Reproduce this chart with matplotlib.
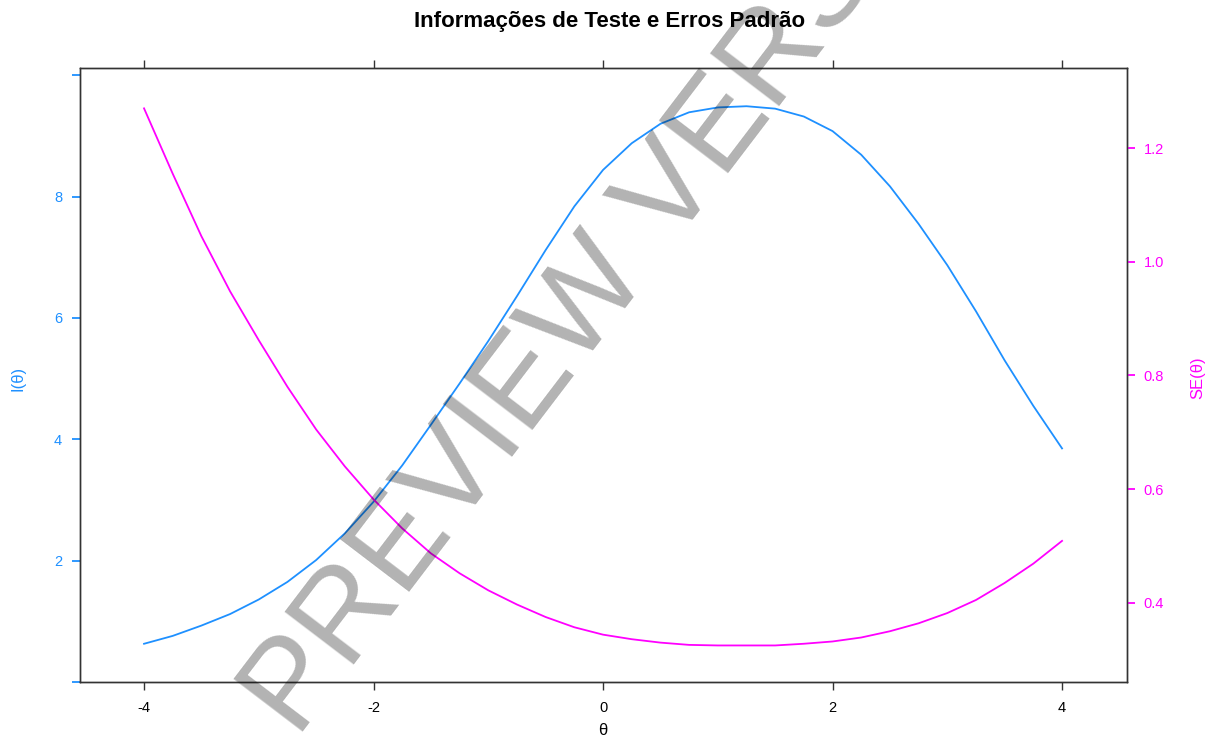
import matplotlib
matplotlib.use("Agg")
import matplotlib.pyplot as plt

theta = [-4.0, -3.75, -3.5, -3.25, -3.0, -2.75, -2.5, -2.25, -2.0, -1.75, -1.5, -1.25,
         -1.0, -0.75, -0.5, -0.25, 0.0, 0.25, 0.5, 0.75, 1.0, 1.25, 1.5, 1.75,
         2.0, 2.25, 2.5, 2.75, 3.0, 3.25, 3.5, 3.75, 4.0]
info = [0.63, 0.76, 0.93, 1.12, 1.36, 1.65, 2.01, 2.45, 2.97, 3.57, 4.24, 4.92,
        5.62, 6.36, 7.12, 7.84, 8.44, 8.88, 9.20, 9.39, 9.47, 9.49, 9.45, 9.32,
        9.08, 8.69, 8.17, 7.55, 6.87, 6.11, 5.30, 4.55, 3.85]
se = [1.27, 1.155, 1.045, 0.948, 0.862, 0.780, 0.705, 0.640, 0.582, 0.531, 0.487, 0.452,
      0.422, 0.397, 0.375, 0.357, 0.344, 0.336, 0.330, 0.326, 0.325, 0.325, 0.325, 0.328,
      0.332, 0.339, 0.350, 0.364, 0.382, 0.405, 0.435, 0.469, 0.509]

x_ticks = [-4, -2, 0, 2, 4]
left_ticks = [0, 2, 4, 6, 8, 10]
left_labels = ["", "2", "4", "6", "8", ""]
right_ticks = [0.4, 0.6, 0.8, 1.0, 1.2]
right_labels = ["0.4", "0.6", "0.8", "1.0", "1.2"]

title = "Informações de Teste e Erros Padrão"
blue = "#1E90FF"
magenta = "#FF00FF"
spine_col = "#333333"

plt.rcParams['font.family'] = ['Liberation Sans', 'DejaVu Sans']

fig = plt.figure(figsize=(12.09, 7.40), dpi=100)
fig.patch.set_facecolor("white")
ax = fig.add_axes([80/1209, 1-682/740, (1127-80)/1209, (682-68)/740])
ax2 = ax.twinx()

ax.plot(theta, info, color=blue, lw=1.3)
ax2.plot(theta, se, color=magenta, lw=1.3)

ax.set_xlim(-4.558, 4.566)
ax.set_ylim(0, 10.12)
ax2.set_ylim(0.2607, 1.341)

for a in (ax, ax2):
    for s in a.spines.values():
        s.set_color(spine_col)
        s.set_linewidth(1.0)

tick_len = 5.8
ax.set_xticks(x_ticks)
ax.set_xticklabels([str(v) for v in x_ticks])
ax.tick_params(axis='x', direction='out', length=tick_len, width=1, color=spine_col,
               labelsize=10.5, pad=8, top=True, labeltop=False)
ax.set_yticks(left_ticks)
ax.set_yticklabels(left_labels)
ax.tick_params(axis='y', direction='out', length=tick_len, width=1.3, color=blue,
               labelcolor=blue, labelsize=10.5, pad=7)
ax2.set_yticks(right_ticks)
ax2.set_yticklabels(right_labels)
ax2.tick_params(axis='y', direction='out', length=tick_len, width=1.3, color=magenta,
                labelcolor=magenta, labelsize=10.5, pad=6)

ax.set_xlabel("θ", fontsize=12)
ax.xaxis.set_label_coords(0.4995, -0.0668)
ax.set_ylabel("I(θ)", color=blue, fontsize=12)
ax.yaxis.set_label_coords(-0.0525, 0.495)
ax2.set_ylabel("SE(θ)", color=magenta, fontsize=12)
ax2.yaxis.set_label_coords(1.0602, 0.495)

fig.text(610/1209, 1-22/740, title, ha='center', va='center',
         fontsize=16, fontweight='bold')

# watermark
fig.text(297/1209, 1-739/740, "PREVIEW VERSION", fontsize=91, color='black',
         alpha=0.3, rotation=52.7, rotation_mode='anchor', ha='left',
         va='baseline', zorder=10)

fig.savefig("out.png", dpi=100)
